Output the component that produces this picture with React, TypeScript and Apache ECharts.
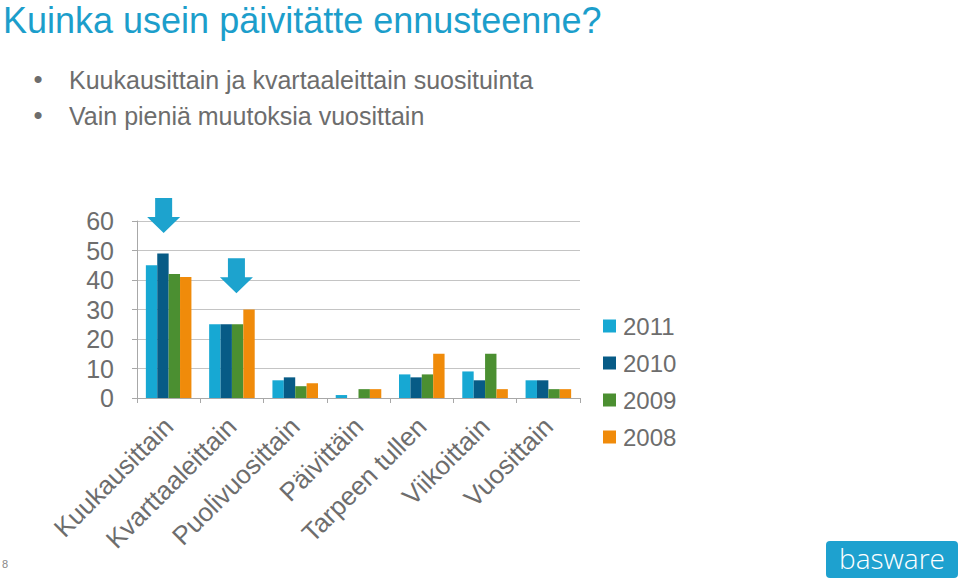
import React, { useEffect, useRef } from "react";
import * as echarts from "echarts";

const categories = [
  "Kuukausittain",
  "Kvarttaaleittain",
  "Puolivuosittain",
  "Päivittäin",
  "Tarpeen tullen",
  "Viikoittain",
  "Vuosittain",
];
const years = ["2011", "2010", "2009", "2008"];
const values2011 = [45, 25, 6, 1, 8, 9, 6];
const values2010 = [49, 25, 7, 0, 7, 6, 6];
const values2009 = [42, 25, 4, 3, 8, 15, 3];
const values2008 = [41, 30, 5, 3, 15, 3, 3];
const yearColors = ["#17A8D3", "#075B86", "#4B8F31", "#F08B0A"];
const arrowCategories = ["Kuukausittain", "Kvarttaaleittain"];
const arrowValues = [61.9, 41.4];
const arrowOffsets = [-5, 4.5];

const titleText = "Kuinka usein päivitätte ennusteenne?";
const bullets = [
  "Kuukausittain ja kvartaaleittain suosituinta",
  "Vain pieniä muutoksia vuosittain",
];

const FONT = "'Liberation Sans', Arial, Helvetica, sans-serif";
const GREY = "#6d6d6d";

export default function App() {
  const ref = useRef<HTMLDivElement>(null);
  useEffect(() => {
    document.body.style.margin = "0";
    const chart = echarts.init(ref.current!, undefined, { renderer: "svg" });
    const seriesValues = [values2011, values2010, values2009, values2008];
    const barSeries = years.map((y, i) => ({
      name: y,
      type: "bar",
      data: seriesValues[i],
      barGap: "0%",
      barCategoryGap: "28%",
      itemStyle: { color: yearColors[i] },
      z: 2,
    }));
    const arrowPath =
      "path://M8,0 L25,0 L25,19 L33,19 L16.5,35 L0,19 L8,19 Z";
    chart.setOption({
      animation: false,
      textStyle: { fontFamily: FONT },
      grid: { left: 137, right: 380, top: 221, bottom: 186, containLabel: false },
      legend: {
        data: years,
        orient: "vertical",
        left: 603,
        top: 314,
        itemWidth: 13,
        itemHeight: 13,
        itemGap: 13,
        icon: "rect",
        padding: 0,
        textStyle: { fontSize: 24, color: GREY, fontFamily: FONT, padding: [0, 0, 0, 2] },
        selectedMode: false,
      },
      xAxis: {
        type: "category",
        data: categories,
        axisLine: { show: true, lineStyle: { color: "#a8a8a8", width: 1 } },
        axisTick: { show: true, length: 5, lineStyle: { color: "#a8a8a8" } },
        axisLabel: {
          rotate: 45,
          interval: 0,
          fontSize: 26,
          color: GREY,
          fontFamily: FONT,
          margin: 24,
        },
      },
      yAxis: {
        type: "value",
        min: 0,
        max: 60,
        interval: 10,
        axisLine: { show: true, lineStyle: { color: "#a8a8a8", width: 1 } },
        axisTick: { show: true, length: 5, lineStyle: { color: "#a8a8a8" } },
        splitLine: { show: true, lineStyle: { color: "#c4c4c4", width: 1 } },
        axisLabel: { fontSize: 25, color: GREY, fontFamily: FONT, margin: 23 },
      },
      series: [
        ...barSeries,
        {
          name: "arrows",
          type: "scatter",
          clip: false,
          symbol: arrowPath,
          symbolSize: [33, 35],
          symbolKeepAspect: false,
          itemStyle: { color: "#1DA3CE", opacity: 1 },
          z: 5,
          data: arrowCategories.map((c, i) => ({
            value: [c, arrowValues[i]],
            symbolOffset: [arrowOffsets[i], 0],
          })),
        },
      ],
      graphic: [
        {
          type: "text",
          x: 3,
          y: 20,
          style: {
            text: titleText,
            fontSize: 36,
            fontFamily: FONT,
            fill: "#1C9ECB",
            verticalAlign: "middle",
          },
        },
        ...bullets.flatMap((b, i) => [
          {
            type: "text",
            x: 38,
            y: 79 + i * 36,
            style: {
              text: "•",
              fontSize: 26,
              fontFamily: FONT,
              fill: GREY,
              align: "center",
              verticalAlign: "middle",
            },
          },
          {
            type: "text",
            x: 69,
            y: 80 + i * 36,
            style: {
              text: b,
              fontSize: 25,
              fontFamily: FONT,
              fill: GREY,
              verticalAlign: "middle",
            },
          },
        ]),
        {
          type: "text",
          x: 2,
          y: 564,
          style: {
            text: "8",
            fontSize: 11,
            fontFamily: FONT,
            fill: "#888888",
            verticalAlign: "middle",
          },
        },
        {
          type: "group",
          children: [
            {
              type: "rect",
              shape: { x: 826, y: 541, width: 132, height: 37, r: 4 },
              style: { fill: "#1EA1CF" },
            },
            {
              type: "text",
              x: 892,
              y: 558,
              style: {
                text: "basware",
                fontSize: 28,
                fontFamily: "'Open Sans', 'DejaVu Sans', sans-serif",
                fontWeight: 300,
                fill: "#ffffff",
                align: "center",
                verticalAlign: "middle",
              },
            },
          ],
        },
      ],
    });
    return () => chart.dispose();
  }, []);
  return <div ref={ref} style={{ width: 960, height: 584 }} />;
}
